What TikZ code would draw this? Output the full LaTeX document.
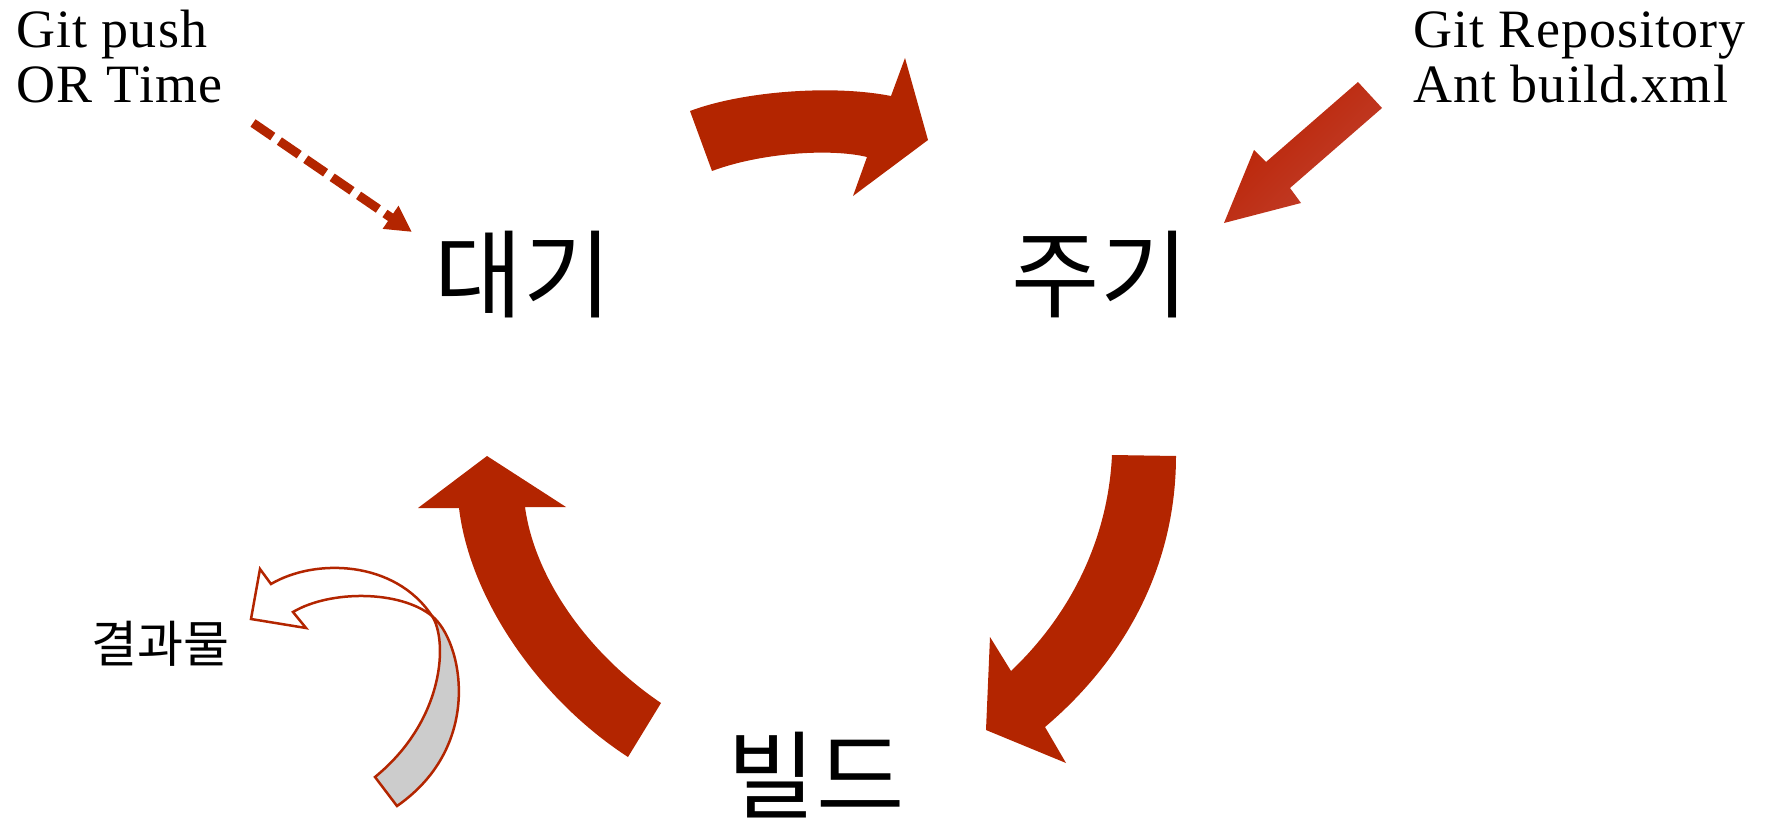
\documentclass[tikz,border=0pt]{standalone}
\usepackage{fontspec}
\setmainfont[LetterSpace=2]{Liberation Serif}
\newfontfamily\kofont{Noto Sans CJK KR}
\usetikzlibrary{arrows.meta}
\definecolor{arrowred}{RGB}{179,37,0}
\definecolor{arrowdark}{RGB}{186,32,0}
\definecolor{arrowlight}{RGB}{194,66,48}
\definecolor{flipgray}{RGB}{204,204,204}
\begin{document}
\begin{tikzpicture}[x=1pt,y=-1pt]
	\tikzstyle{Stage} = [inner sep=0pt, font=\kofont\fontsize{96}{100}\selectfont]
	\tikzstyle{Result} = [inner sep=0pt, font=\kofont\fontsize{50}{54}\selectfont]
	\tikzstyle{Note} = [inner sep=0pt, anchor=base west, font=\fontsize{54}{60}\selectfont]
	\tikzstyle{BigArrow} = [fill=arrowred, draw=none]
	\tikzstyle{Ribbon} = [draw=arrowred, line width=2.5pt, line join=miter]
	\useasboundingbox (0,0) rectangle (1765,824);
	\node (wait) at (523,275) [Stage] {대기};
	\node (cycle) at (1100,275) [Stage] {주기};
	\node (build) at (816,775) [Stage] {빌드};
	\node (result) at (160,644) [Result] {결과물};
	\node (push) at (16,48) [Note] {Git push};
	\node (time) at (16,103) [Note] {OR Time};
	\node (repo) at (1413,48) [Note] {Git Repository};
	\node (ant) at (1413,103) [Note] {Ant build.xml};
	\coordinate (trigger) at (253,123);
	\coordinate (waitin) at (412,232);
	\draw [arrowred, line width=9pt, dash pattern=on 24pt off 8pt, -{Triangle[length=26pt,width=26pt]}] (trigger) -- (waitin);
	\fill [BigArrow] (690,111) .. controls (740,92) and (830,84) .. (891,96) -- (905,58) -- (928,140) -- (853,196) -- (867,157) .. controls (830,148) and (760,153) .. (712,171) -- cycle;
	\fill [BigArrow] (1176,456) .. controls (1176,560) and (1130,655) .. (1045,727) -- (1066,763) -- (986,730) -- (990,637) -- (1011,671) .. controls (1070,615) and (1108,540) .. (1112,455) -- cycle;
	\fill [BigArrow] (628,757) .. controls (540,700) and (470,600) .. (459,508) -- (418,508) -- (487,456) -- (566,507) -- (525,507) .. controls (535,580) and (590,655) .. (661,703) -- cycle;
	\shade [top color=arrowdark, middle color=arrowdark, bottom color=arrowlight, shading angle=45] (1358,82) -- (1382,108) -- (1290,188) -- (1301,203) -- (1224,223) -- (1254,150) -- (1266,162) -- cycle;
	\filldraw [Ribbon, fill=flipgray] (432,616) .. controls (448,640) and (445,720) .. (375,777) -- (397,806) .. controls (485,745) and (462,640) .. (432,616) -- cycle;
	\filldraw [Ribbon, fill=white] (432,616) .. controls (395,560) and (315,558) .. (271,584) -- (260,569) -- (251,619) -- (306,628) -- (293,612) .. controls (330,590) and (400,590) .. (432,616) -- cycle;
\end{tikzpicture}
\end{document}
